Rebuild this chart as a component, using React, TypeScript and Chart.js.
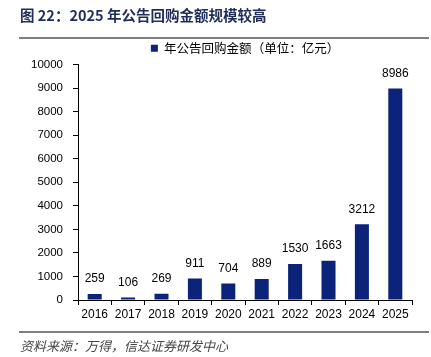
import React, { useEffect, useRef } from "react";
import { Chart, registerables } from "chart.js";

Chart.register(...registerables);

const years = ["2016", "2017", "2018", "2019", "2020", "2021", "2022", "2023", "2024", "2025"];
const buybackAmounts = [259, 106, 269, 911, 704, 889, 1530, 1663, 3212, 8986];
const seriesName = "年公告回购金额（单位：亿元）";
const yTicks = [0, 1000, 2000, 3000, 4000, 5000, 6000, 7000, 8000, 9000, 10000];
const titleText = "图 22：2025 年公告回购金额规模较高";
const sourceText = "资料来源：万得，信达证券研发中心";

const BAR_COLOR = "#0b2379";
const SANS = "'Liberation Sans', Arial, sans-serif";

const valueLabels = {
  id: "valueLabels",
  afterDatasetsDraw(chart: any) {
    const ctx = chart.ctx;
    const meta = chart.getDatasetMeta(0);
    ctx.save();
    ctx.font = `12px ${SANS}`;
    ctx.fillStyle = "#000";
    ctx.textAlign = "center";
    ctx.textBaseline = "middle";
    meta.data.forEach((bar: any, i: number) => {
      ctx.fillText(String(chart.data.datasets[0].data[i]), bar.x, bar.y - 15);
    });
    ctx.restore();
  },
};

// Center the legend over the plot area (as in the reference) instead of the whole canvas.
const legendOverPlot = {
  id: "legendOverPlot",
  afterLayout(chart: any) {
    const lg = chart.legend;
    if (!lg) return;
    const plotCenter = (chart.chartArea.left + chart.chartArea.right) / 2;
    const boxCenter = (lg.left + lg.right) / 2;
    const dx = plotCenter - boxCenter;
    lg.left += dx;
    lg.right += dx;
  },
};

export default function App() {
  const ref = useRef<HTMLCanvasElement | null>(null);
  useEffect(() => {
    const chart = new Chart(ref.current as HTMLCanvasElement, {
      type: "bar",
      data: {
        labels: years,
        datasets: [
          {
            label: seriesName,
            data: buybackAmounts,
            backgroundColor: BAR_COLOR,
            borderWidth: 0,
            categoryPercentage: 1,
            barPercentage: 0.42,
          },
        ],
      },
      options: {
        animation: false,
        responsive: false,
        layout: { padding: { top: 34, right: 19, left: 0, bottom: 0 } },
        plugins: {
          legend: {
            position: "top",
            labels: {
              boxWidth: 7,
              boxHeight: 7,
              padding: 8,
              color: "#000",
              font: { size: 12.5, family: "'Noto Sans CJK SC', sans-serif" },
            },
          },
          tooltip: { enabled: false },
        },
        scales: {
          x: {
            grid: { drawOnChartArea: false, drawTicks: true, tickLength: 5, color: "#000", offset: true },
            border: { color: "#000", width: 1 },
            ticks: { color: "#000", font: { size: 12, family: SANS }, padding: 2, maxRotation: 0 },
            afterFit(scale: any) {
              scale.height = 57;
            },
          },
          y: {
            min: 0,
            max: 10000,
            afterBuildTicks(scale: any) {
              scale.ticks = yTicks.map((v) => ({ value: v }));
            },
            grid: { drawOnChartArea: false, drawTicks: true, tickLength: 5, color: "#000" },
            border: { color: "#000", width: 1 },
            ticks: {
              color: "#000",
              font: { size: 11.5, family: SANS },
              padding: 10,
              callback: (v: any) => String(v),
            },
            afterFit(scale: any) {
              scale.width = 78;
            },
          },
        },
      },
      plugins: [valueLabels, legendOverPlot],
    });
    return () => chart.destroy();
  }, []);

  return (
    <div style={{ position: "fixed", left: 0, top: 0, width: 431, height: 357, background: "#fff", overflow: "hidden" }}>
      <canvas ref={ref} width={431} height={357} style={{ position: "absolute", left: 0, top: 0 }} />
      <div
        style={{
          position: "absolute",
          left: 20,
          top: 5,
          fontFamily: "'Noto Sans CJK SC', sans-serif",
          fontWeight: 700,
          fontSize: 14.5,
          color: "#1f2d5a",
          whiteSpace: "nowrap",
          lineHeight: "20px",
        }}
      >
        {titleText}
      </div>
      <div style={{ position: "absolute", left: 19, top: 37, width: 410, height: 2, background: "#808080" }} />
      <div style={{ position: "absolute", left: 19, top: 331, width: 410, height: 2, background: "#808080" }} />
      <div
        style={{
          position: "absolute",
          left: 20,
          top: 337,
          fontFamily: "'Noto Sans CJK SC', sans-serif",
          fontStyle: "italic",
          fontSize: 13,
          color: "#444",
          whiteSpace: "nowrap",
          lineHeight: "18px",
        }}
      >
        {sourceText}
      </div>
    </div>
  );
}
